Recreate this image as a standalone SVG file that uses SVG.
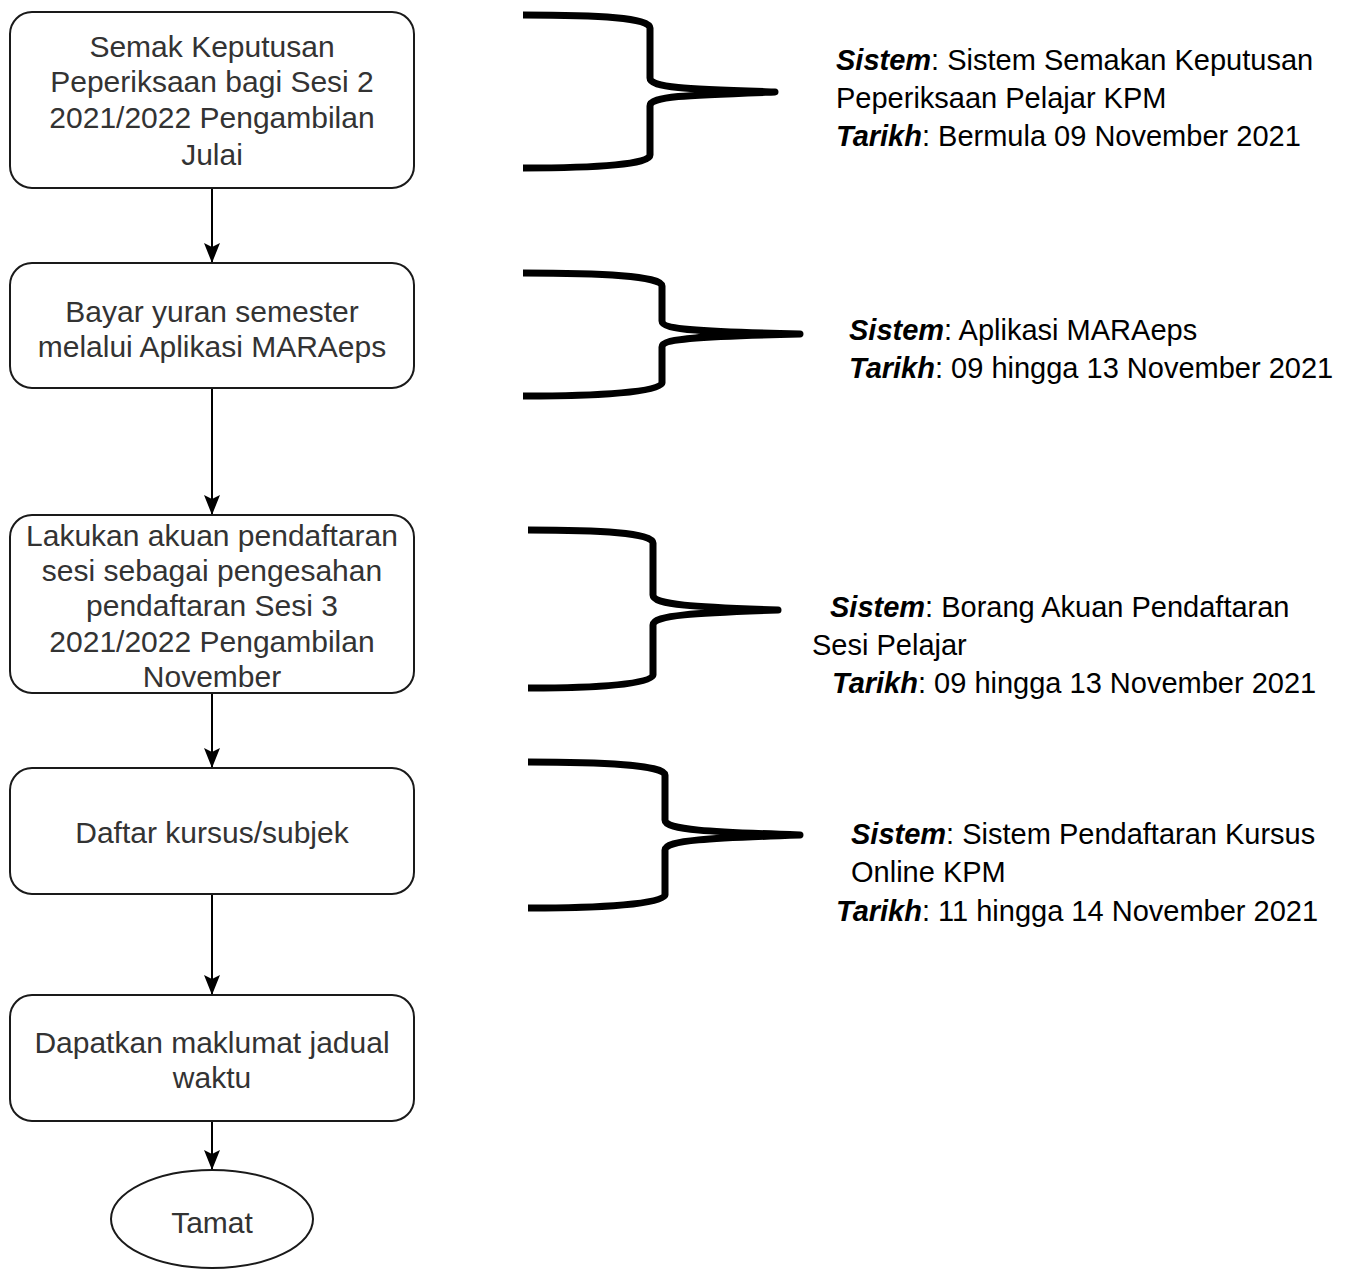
<svg xmlns="http://www.w3.org/2000/svg" width="1352" height="1270" viewBox="0 0 1352 1270">
<defs>
<style>
.box{fill:#fff;stroke:#1a1a1a;stroke-width:2}
.bt{font-family:"Liberation Sans",Arial,sans-serif;font-size:30px;fill:#333;text-anchor:middle}
.rt{font-family:"Liberation Sans",Arial,sans-serif;font-size:29px;fill:#000}
.rt .k{font-weight:bold;font-style:italic}
.edge{stroke:#000;stroke-width:2;fill:none}
.brace{stroke:#000;stroke-width:7;fill:none;stroke-linejoin:round}
</style>
<marker id="ah" markerUnits="userSpaceOnUse" markerWidth="21" markerHeight="18" viewBox="0 -9 21 18" refX="20" refY="0" orient="auto">
<path d="M0,-8 L20,0 L0,8 L4,0 Z" fill="#000"/>
</marker>
</defs>

<g id="connectors">
<line class="edge" x1="212" y1="188" x2="212" y2="263" marker-end="url(#ah)"/>
<line class="edge" x1="212" y1="388" x2="212" y2="515" marker-end="url(#ah)"/>
<line class="edge" x1="212" y1="693" x2="212" y2="768" marker-end="url(#ah)"/>
<line class="edge" x1="212" y1="894" x2="212" y2="995" marker-end="url(#ah)"/>
<line class="edge" x1="212" y1="1121" x2="212" y2="1170" marker-end="url(#ah)"/>
</g>

<g id="node1">
<rect class="box" x="10" y="12" width="404" height="176" rx="22"/>
<text class="bt" x="212" y="57">Semak Keputusan</text>
<text class="bt" x="212" y="92">Peperiksaan bagi Sesi 2</text>
<text class="bt" x="212" y="128">2021/2022 Pengambilan</text>
<text class="bt" x="212" y="165">Julai</text>
</g>

<g id="node2">
<rect class="box" x="10" y="263" width="404" height="125" rx="22"/>
<text class="bt" x="212" y="322">Bayar yuran semester</text>
<text class="bt" x="212" y="357">melalui Aplikasi MARAeps</text>
</g>

<g id="node3">
<rect class="box" x="10" y="515" width="404" height="178" rx="22"/>
<text class="bt" x="212" y="546">Lakukan akuan pendaftaran</text>
<text class="bt" x="212" y="581">sesi sebagai pengesahan</text>
<text class="bt" x="212" y="616">pendaftaran Sesi 3</text>
<text class="bt" x="212" y="652">2021/2022 Pengambilan</text>
<text class="bt" x="212" y="687">November</text>
</g>

<g id="node4">
<rect class="box" x="10" y="768" width="404" height="126" rx="22"/>
<text class="bt" x="212" y="843">Daftar kursus/subjek</text>
</g>

<g id="node5">
<rect class="box" x="10" y="995" width="404" height="126" rx="22"/>
<text class="bt" x="212" y="1053">Dapatkan maklumat jadual</text>
<text class="bt" x="212" y="1088">waktu</text>
</g>

<g id="node6">
<ellipse class="box" cx="212" cy="1219" rx="101" ry="49"/>
<text class="bt" x="212" y="1233">Tamat</text>
</g>

<g id="brace1">
<path class="brace" d="M523,15 C600,15 650,18 650,28 L650,78 C650,88 690,89 775,92 C690,95 650,96 650,106 L650,155 C650,164 600,168 523,168"/>
</g>
<g id="brace2">
<path class="brace" d="M523,273 C600,273 662,276 662,286 L662,321 C662,330 705,332 800,334 C705,336 662,338 662,347 L662,383 C662,392 600,396 523,396"/>
</g>
<g id="brace3">
<path class="brace" d="M528,530 C600,530 653,533 653,543 L653,595 C653,605 695,607 778,610 C695,613 653,615 653,625 L653,675 C653,684 600,688 528,688"/>
</g>
<g id="brace4">
<path class="brace" d="M528,762 C600,762 665,765 665,775 L665,820 C665,830 710,832 800,835 C710,838 665,840 665,850 L665,895 C665,904 600,908 528,908"/>
</g>

<g id="label1">
<text class="rt" x="836" y="70"><tspan class="k">Sistem</tspan>: Sistem Semakan Keputusan</text>
<text class="rt" x="836" y="108">Peperiksaan Pelajar KPM</text>
<text class="rt" x="836" y="146"><tspan class="k">Tarikh</tspan>: Bermula 09 November 2021</text>
</g>
<g id="label2">
<text class="rt" x="849" y="340"><tspan class="k">Sistem</tspan>: Aplikasi MARAeps</text>
<text class="rt" x="849" y="378"><tspan class="k">Tarikh</tspan>: 09 hingga 13 November 2021</text>
</g>
<g id="label3">
<text class="rt" x="830" y="617"><tspan class="k">Sistem</tspan>: Borang Akuan Pendaftaran</text>
<text class="rt" x="812" y="655">Sesi Pelajar</text>
<text class="rt" x="832" y="693"><tspan class="k">Tarikh</tspan>: 09 hingga 13 November 2021</text>
</g>
<g id="label4">
<text class="rt" x="851" y="844"><tspan class="k">Sistem</tspan>: Sistem Pendaftaran Kursus</text>
<text class="rt" x="851" y="882">Online KPM</text>
<text class="rt" x="836" y="921"><tspan class="k">Tarikh</tspan>: 11 hingga 14 November 2021</text>
</g>
</svg>
